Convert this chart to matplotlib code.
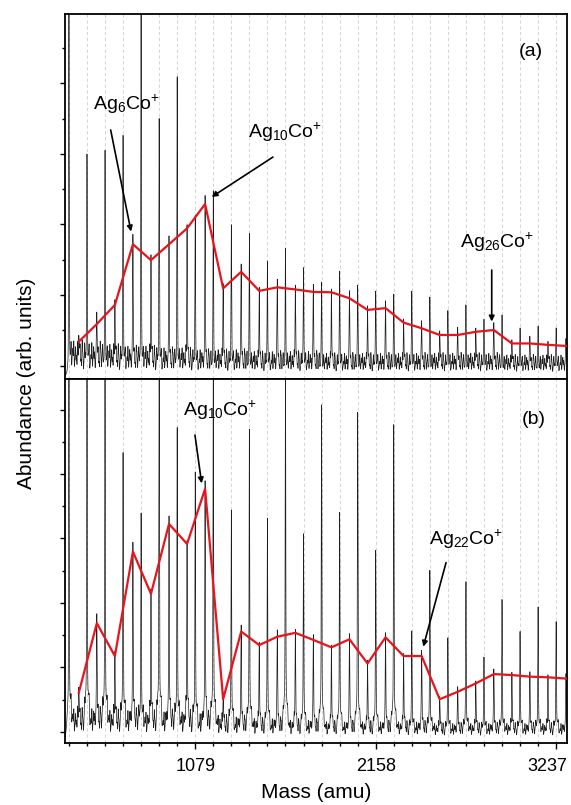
import numpy as np
import matplotlib.pyplot as plt
from matplotlib.ticker import FixedLocator, NullFormatter
from matplotlib.transforms import offset_copy

plt.rcParams['font.family'] = ['Liberation Sans', 'DejaVu Sans']
plt.rcParams['mathtext.fontset'] = 'custom'
plt.rcParams['mathtext.rm'] = 'Liberation Sans'
plt.rcParams['mathtext.it'] = 'Liberation Sans:italic'

AG = 107.87   # amu
CO = 58.93

n_atoms = list(range(3, 31))

# panel (a): peak heights (arb. units)
ag_a = [11.0, 5.74, 5.92, 6.35, 11.0, 6.79, 8.05, 4.08, 4.79, 3.80,
        3.61, 2.80, 3.18, 2.60, 2.24, 2.52, 2.14, 1.95, 1.90, 1.95,
        1.80, 1.40, 1.60, 1.15, 1.30, 0.92, 1.00, 0.92]
agco_a = [0.68, 1.18, 1.72, 3.44, 2.99, 3.44, 3.89, 4.58, 2.19, 2.66,
          2.12, 2.22, 2.16, 2.09, 2.08, 1.91, 1.58, 1.63, 1.22, 1.06,
          0.87, 0.87, 0.96, 1.01, 0.63, 0.63, 0.59, 0.56]
noise_a = [0.95, 0.9, 0.85, 0.8, 0.8, 0.75, 0.75, 0.7, 0.7, 0.7,
           0.65, 0.65, 0.65, 0.65, 0.6, 0.6, 0.6, 0.6, 0.6, 0.6,
           0.6, 0.6, 0.6, 0.6, 0.55, 0.55, 0.55, 0.55]

# panel (b)
ag_b = [12.0, 12.0, 12.0, 8.5, 6.6, 12.0, 9.3, 7.9, 12.0, 6.7,
        9.3, 6.5, 12.0, 6.0, 10.1, 6.7, 9.8, 5.5, 9.5, 3.0,
        4.9, 2.8, 4.6, 2.2, 4.0, 3.0, 3.8, 3.3]
agco_b = [1.21, 3.37, 2.35, 5.59, 4.28, 6.45, 5.83, 7.54, 1.01, 3.11,
          2.69, 2.95, 3.07, 2.85, 2.62, 2.87, 2.12, 2.93, 2.35, 2.35,
          1.01, 1.24, 1.50, 1.79, 1.76, 1.71, 1.69, 1.65]
noise_b = [0.9, 0.9, 0.85, 0.85, 0.8, 0.8, 0.8, 0.75, 0.7, 0.65,
           0.6, 0.6, 0.55, 0.55, 0.5, 0.5, 0.5, 0.5, 0.5, 0.5,
           0.45, 0.45, 0.45, 0.45, 0.45, 0.45, 0.45, 0.45]

# small unresolved peaks between the cluster lines (fraction of one Ag mass)
sat_offsets = [0.03, 0.08, 0.12, 0.18, 0.22, 0.27, 0.33, 0.37, 0.42, 0.48,
               0.52, 0.58, 0.62, 0.67, 0.73, 0.77, 0.83, 0.87, 0.92, 0.97]
sat_heights = [0.6, 0.3, 0.9, 0.5, 0.75, 1.0, 0.4, 0.8, 0.55, 0.95,
               0.35, 0.7, 0.85, 0.45, 1.0, 0.6, 0.3, 0.9, 0.5, 0.7]

mass = np.arange(300, 3305, 0.5)


def spectrum(ag, agco, noise, base, broad, width):
    y = np.full_like(mass, base)
    for i, n in enumerate(n_atoms):
        for m0, h in ((n * AG, ag[i]), (n * AG + CO, agco[i])):
            amp = (h - base) / (1 + broad)
            y += amp * np.exp(-(mass - m0) ** 2 / (2 * 1.6 ** 2))
            y += broad * amp * np.exp(-(mass - m0) ** 2 / (2 * width ** 2))
        hs = sat_heights if n % 2 else sat_heights[::-1]
        for off, r in zip(sat_offsets, hs):
            y += noise[i] * r * np.exp(-(mass - (n + off) * AG) ** 2 / (2 * 1.8 ** 2))
    return y


fig = plt.figure(figsize=(5.71, 8.05), dpi=100)
ax_a = fig.add_axes([0.1138, 0.5292, 0.8792, 0.4534])
ax_b = fig.add_axes([0.1138, 0.0770, 0.8792, 0.4522])

panels = [
    (ax_a, ag_a, agco_a, noise_a, -0.25, 0.06, 6.0, (-0.377, 9.963), 9),
    (ax_b, ag_b, agco_b, noise_b, -0.2, 0.14, 9.0, (-0.35, 10.95), 10),
]

co_mass = [n * AG + CO for n in n_atoms]
for ax, ag, agco, noise, base, broad, width, ylim, ymax in panels:
    for n in n_atoms:
        ax.axvline(n * AG, color='#cfcfcf', lw=0.6, ls=(0, (4, 3)), zorder=0)
    ax.plot(mass, spectrum(ag, agco, noise, base, broad, width),
            color='#1e1e1e', lw=0.5, zorder=2)
    ax.plot(co_mass, agco, color='#e8141c', lw=1.6, zorder=3)
    ax.set_xlim(300, 3301)
    ax.set_ylim(*ylim)
    ax.xaxis.set_major_locator(FixedLocator([10 * AG, 20 * AG, 30 * AG]))
    ax.xaxis.set_minor_locator(FixedLocator([n * AG for n in n_atoms]))
    ax.yaxis.set_major_locator(FixedLocator(list(range(0, ymax + 1, 2))))
    ax.yaxis.set_minor_locator(FixedLocator(list(range(1, ymax + 1, 2))))
    ax.yaxis.set_major_formatter(NullFormatter())
    ax.tick_params(which='major', direction='out', length=3.8, width=1)
    ax.tick_params(which='minor', direction='out', length=2.4, width=1)
    ax.tick_params(axis='x', which='major', length=4.5)
    for s in ax.spines.values():
        s.set_linewidth(1.3)

ax_a.xaxis.set_major_formatter(NullFormatter())
ax_b.set_xticklabels(['1079', '2158', '3237'])
ax_b.tick_params(axis='x', labelsize=13, pad=6)
fig.canvas.draw()
last = ax_b.get_xticklabels()[-1]
last.set_transform(offset_copy(last.get_transform(), fig=fig, x=-9, units='dots'))

fig.text(0.047, 0.524, 'Abundance (arb. units)', rotation=90, ha='center', va='center', fontsize=15)
fig.text(0.553, 0.015, 'Mass (amu)', ha='center', va='center', fontsize=15)

arrow = dict(arrowstyle='-|>', lw=1.2, color='k', mutation_scale=8, shrinkA=0, shrinkB=0)
label_kw = dict(fontsize=14, ha='center', va='center')

# panel (a) labels and arrows
ax_a.text(665, 7.41, r'Ag$_{6}$Co$^{+}$', **label_kw)
ax_a.annotate('', xy=(695, 3.80), xytext=(573, 6.68), arrowprops=arrow)
ax_a.text(1615, 6.62, r'Ag$_{10}$Co$^{+}$', **label_kw)
ax_a.annotate('', xy=(1177, 4.78), xytext=(1543, 5.91), arrowprops=arrow)
ax_a.text(2882, 3.50, r'Ag$_{26}$Co$^{+}$', **label_kw)
ax_a.annotate('', xy=(2851, 1.25), xytext=(2851, 2.71), arrowprops=arrow)
ax_a.text(3082, 8.89, '(a)', **label_kw)

# panel (b) labels and arrows
ax_b.text(1227, 9.99, r'Ag$_{10}$Co$^{+}$', **label_kw)
ax_b.annotate('', xy=(1117, 7.71), xytext=(1077, 9.21), arrowprops=arrow)
ax_b.text(2697, 5.98, r'Ag$_{22}$Co$^{+}$', **label_kw)
ax_b.annotate('', xy=(2442, 2.64), xytext=(2578, 5.25), arrowprops=arrow)
ax_b.text(3100, 9.68, '(b)', **label_kw)

fig.savefig('out.png', dpi=100)
